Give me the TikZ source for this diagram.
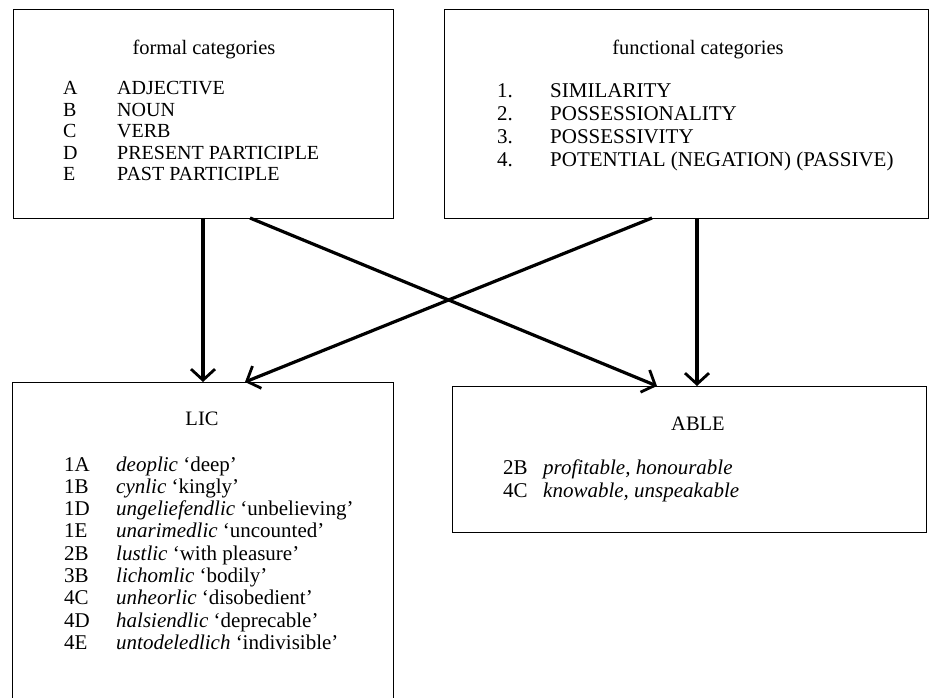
\documentclass[tikz,border=0pt]{standalone}
\usepackage{fontspec}
\setmainfont{Liberation Serif}
\usetikzlibrary{arrows.meta}
\begin{document}
\begin{tikzpicture}[x=1pt,y=-1pt,
  box/.style={draw, line width=1.3pt, inner sep=0pt, anchor=north west},
  txt/.style={inner sep=0pt, anchor=base west, font=\fontsize{20}{22}\selectfont},
  txtb/.style={inner sep=0pt, anchor=base west, font=\fontsize{21}{23}\selectfont},
  ttl/.style={inner sep=0pt, anchor=base, font=\fontsize{20.5}{22}\selectfont},
  arr/.style={line width=3.2pt, -{Straight Barb[length=11pt,width=24pt,line width=2.8pt]}}]
\useasboundingbox (0,0) rectangle (930,698);
\clip (0,0) rectangle (930,698);
% boxes
\node[box, minimum width=380pt, minimum height=209pt] (formal) at (13,9) {};
\node[box, minimum width=484pt, minimum height=209pt] (func) at (444,9) {};
\node[box, minimum width=381pt, minimum height=330pt] (lic) at (12,382) {};
\node[box, minimum width=474pt, minimum height=146pt] (able) at (452,386) {};
% formal
\node[ttl] (ft) at (204,55) {formal categories};
\node[txt] (fa) at (63,95) {A};   \node[txt] (fat) at (117,95) {ADJECTIVE};
\node[txt] (fb) at (63,116.5) {B};   \node[txt] (fbt) at (117,116.5) {NOUN};
\node[txt] (fc) at (63,138) {C};   \node[txt] (fct) at (117,138) {VERB};
\node[txt] (fd) at (63,159.5) {D};   \node[txt] (fdt) at (117,159.5) {PRESENT PARTICIPLE};
\node[txt] (fe) at (63,181) {E};   \node[txt] (fet) at (117,181) {PAST PARTICIPLE};
% functional
\node[ttl] (gt) at (698,55) {functional categories};
\node[txtb] (g1) at (497,98) {1.};  \node[txtb] (g1t) at (550,98) {SIMILARITY};
\node[txtb] (g2) at (497,121) {2.};  \node[txtb] (g2t) at (550,121) {POSSESSIONALITY};
\node[txtb] (g3) at (497,144) {3.};  \node[txtb] (g3t) at (550,144) {POSSESSIVITY};
\node[txtb] (g4) at (497,167) {4.};  \node[txtb] (g4t) at (550,167) {POTENTIAL (NEGATION) (PASSIVE)};
% LIC
\node[ttl] (lt) at (202,425) {LIC};
\node[txtb] (l1) at (64,471) {1A}; \node[txtb] (l1t) at (116,471) {\textit{deoplic} ‘deep’};
\node[txtb] (l2) at (64,493.3) {1B}; \node[txtb] (l2t) at (116,493.3) {\textit{cynlic} ‘kingly’};
\node[txtb] (l3) at (64,515.6) {1D}; \node[txtb] (l3t) at (116,515.6) {\textit{ungeliefendlic} ‘unbelieving’};
\node[txtb] (l4) at (64,537.9) {1E}; \node[txtb] (l4t) at (116,537.9) {\textit{unarimedlic} ‘uncounted’};
\node[txtb] (l5) at (64,560.2) {2B}; \node[txtb] (l5t) at (116,560.2) {\textit{lustlic} ‘with pleasure’};
\node[txtb] (l6) at (64,582.5) {3B}; \node[txtb] (l6t) at (116,582.5) {\textit{lichomlic} ‘bodily’};
\node[txtb] (l7) at (64,604.8) {4C}; \node[txtb] (l7t) at (116,604.8) {\textit{unheorlic} ‘disobedient’};
\node[txtb] (l8) at (64,627.1) {4D}; \node[txtb] (l8t) at (116,627.1) {\textit{halsiendlic} ‘deprecable’};
\node[txtb] (l9) at (64,649.4) {4E}; \node[txtb] (l9t) at (116,649.4) {\textit{untodeledlich} ‘indivisible’};
% ABLE
\node[ttl] (at) at (698,430) {ABLE};
\node[txtb] (a1) at (503,474) {2B}; \node[txtb] (a1t) at (543,474) {\textit{profitable, honourable}};
\node[txtb] (a2) at (503,497) {4C}; \node[txtb] (a2t) at (543,497) {\textit{knowable, unspeakable}};
% connector ends
\coordinate (fs1) at (203,218);
\coordinate (fs2) at (250,218);
\coordinate (gs1) at (652,218);
\coordinate (gs2) at (697,218);
\coordinate (ln1) at (203,382);
\coordinate (ln2) at (245,382);
\coordinate (an1) at (657,386);
\coordinate (an2) at (697,386);
\draw[arr] (fs1) -- (ln1);
\draw[arr] (fs2) -- (an1);
\draw[arr] (gs1) -- (ln2);
\draw[arr] (gs2) -- (an2);
\end{tikzpicture}
\end{document}
